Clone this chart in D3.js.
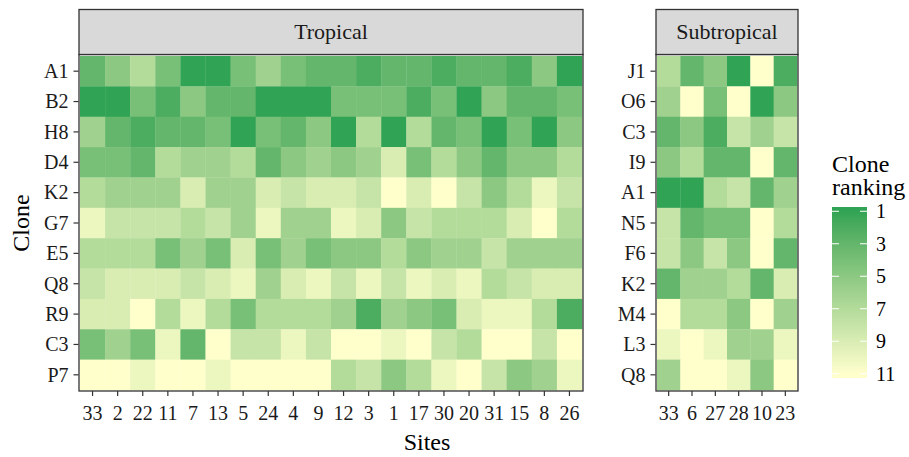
<!DOCTYPE html>
<meta charset="utf-8">
<style>
body { margin: 0; background: #fff; }
svg { font-family: "Liberation Serif", "Times New Roman", serif; }
.axis path { display: none; }
.axis line { stroke: #333; stroke-width: 1.2px; }
.axis text { fill: #1a1a1a; font-size: 20px; font-family: "Liberation Serif", serif; }
.strip rect { fill: #d9d9d9; stroke: #333; stroke-width: 1.3px; }
.strip text { font-size: 22px; fill: #1a1a1a; text-anchor: middle; }
.border { fill: none; stroke: #333; stroke-width: 1.3px; }
</style>
<svg width="909" height="457"></svg>
<script src="https://d3js.org/d3.v7.min.js"></script>
<script>

// tropical facet
var tropicalSites = ["33", "2", "22", "11", "7", "13", "5", "24", "4", "9", "12", "3", "1", "17", "30", "20", "31", "15", "8", "26"];
var tropicalClones = ["A1", "B2", "H8", "D4", "K2", "G7", "E5", "Q8", "R9", "C3", "P7"];
var tropicalRanks = [
  [3, 5, 7, 4, 1, 1, 4, 6, 4, 3, 3, 2, 3, 3, 2, 3, 3, 2, 5, 1],
  [1, 1, 4, 2, 5, 3, 3, 1, 1, 1, 4, 4, 4, 2, 4, 1, 5, 3, 3, 4],
  [6, 3, 2, 3, 3, 4, 1, 4, 3, 5, 1, 7, 1, 7, 3, 4, 1, 4, 1, 5],
  [4, 4, 3, 7, 6, 6, 7, 3, 5, 6, 5, 6, 9, 4, 7, 5, 3, 5, 5, 7],
  [7, 6, 6, 6, 9, 6, 6, 9, 8, 9, 9, 8, 11, 9, 11, 8, 5, 7, 10, 8],
  [10, 8, 8, 8, 7, 8, 6, 10, 6, 6, 10, 9, 5, 8, 7, 7, 7, 9, 11, 7],
  [7, 7, 7, 4, 6, 4, 9, 4, 6, 4, 5, 5, 7, 5, 6, 6, 8, 6, 6, 6],
  [8, 9, 9, 9, 8, 9, 10, 6, 9, 10, 8, 10, 8, 10, 9, 10, 7, 8, 9, 9],
  [9, 9, 11, 7, 10, 7, 4, 7, 7, 7, 6, 2, 6, 5, 4, 9, 10, 10, 7, 2],
  [4, 6, 4, 10, 3, 11, 8, 8, 10, 8, 11, 11, 10, 11, 8, 7, 11, 11, 8, 11],
  [11, 11, 10, 11, 11, 10, 11, 11, 11, 11, 7, 8, 5, 7, 10, 11, 8, 5, 6, 10]
];

// subtropical facet
var subtropicalSites = ["33", "6", "27", "28", "10", "23"];
var subtropicalClones = ["J1", "O6", "C3", "I9", "A1", "N5", "F6", "K2", "M4", "L3", "Q8"];
var subtropicalRanks = [
  [7, 3, 5, 1, 11, 2],
  [6, 11, 4, 11, 1, 5],
  [3, 5, 2, 8, 6, 8],
  [5, 7, 3, 3, 11, 3],
  [1, 1, 7, 8, 3, 6],
  [8, 3, 4, 4, 11, 7],
  [8, 5, 8, 5, 11, 3],
  [3, 6, 6, 7, 3, 9],
  [11, 7, 7, 5, 11, 6],
  [10, 11, 10, 6, 6, 10],
  [6, 11, 11, 10, 5, 11]
];

var legendTicks = [1, 3, 5, 7, 9, 11];

var svg = d3.select("svg");

var color = d3.scaleLinear()
  .domain([1, 11])
  .range(["#31a354", "#ffffcc"])
  .interpolate(d3.interpolateLab);

var panelTop = 56, panelBottom = 390;

function facet(name, sites, clones, ranks, x0, x1) {
  var x = d3.scaleBand().domain(sites).range([x0, x1]);
  var y = d3.scaleBand().domain(clones).range([panelTop, panelBottom]);

  var cells = [];
  clones.forEach(function(c, i) {
    sites.forEach(function(s, j) {
      cells.push({site: s, clone: c, rank: ranks[i][j]});
    });
  });

  svg.append("g").selectAll("rect")
    .data(cells)
    .enter().append("rect")
    .attr("x", function(d) { return x(d.site); })
    .attr("y", function(d) { return y(d.clone); })
    .attr("width", x.bandwidth() + 0.3)
    .attr("height", y.bandwidth() + 0.3)
    .attr("fill", function(d) { return color(d.rank); });

  svg.append("rect").attr("class", "border")
    .attr("x", x0 - 1).attr("y", panelTop - 1.5)
    .attr("width", x1 - x0 + 2).attr("height", panelBottom - panelTop + 2.5);

  var strip = svg.append("g").attr("class", "strip");
  strip.append("rect")
    .attr("x", x0 - 1).attr("y", 9.5)
    .attr("width", x1 - x0 + 2).attr("height", panelTop - 1.5 - 9.5);
  strip.append("text")
    .attr("x", (x0 + x1) / 2).attr("y", 39)
    .text(name);

  svg.append("g")
    .attr("class", "axis")
    .attr("transform", "translate(0," + (panelBottom + 1) + ")")
    .call(d3.axisBottom(x).tickSize(5).tickPadding(10));

  svg.append("g")
    .attr("class", "axis")
    .attr("transform", "translate(" + (x0 - 1.5) + ",0)")
    .call(d3.axisLeft(y).tickSize(5).tickPadding(5))
    .selectAll("text").attr("dy", "0.34em");
}

facet("Tropical", tropicalSites, tropicalClones, tropicalRanks, 80, 582);
facet("Subtropical", subtropicalSites, subtropicalClones, subtropicalRanks, 657, 797);

// axis titles
svg.append("text")
  .attr("transform", "translate(29," + (panelTop + panelBottom) / 2 + ") rotate(-90)")
  .attr("text-anchor", "middle")
  .style("font-size", "24px")
  .text("Clone");

svg.append("text")
  .attr("x", 427).attr("y", 450)
  .attr("text-anchor", "middle")
  .style("font-size", "24px")
  .text("Sites");

// legend
var lg = svg.append("g");
lg.append("text").attr("x", 832).attr("y", 172).style("font-size", "24px").text("Clone");
lg.append("text").attr("x", 832).attr("y", 195).style("font-size", "24px").text("ranking");

var barTop = 207, barBottom = 378, barX = 832, barW = 35;
var half = (barBottom - barTop) / 40;
var ly = d3.scaleLinear().domain([1, 11]).range([barTop + half, barBottom - half]);

var grad = svg.append("defs").append("linearGradient")
  .attr("id", "legendGrad")
  .attr("x1", 0).attr("y1", 0).attr("x2", 0).attr("y2", 1);
d3.range(1, 11.01, 0.5).forEach(function(v) {
  grad.append("stop")
    .attr("offset", (ly(v) - barTop) / (barBottom - barTop))
    .attr("stop-color", color(v));
});

lg.append("rect")
  .attr("x", barX).attr("y", barTop)
  .attr("width", barW).attr("height", barBottom - barTop)
  .attr("fill", "url(#legendGrad)");

legendTicks.forEach(function(t) {
  lg.append("line")
    .attr("x1", barX).attr("x2", barX + 7)
    .attr("y1", ly(t)).attr("y2", ly(t))
    .attr("stroke", "#fff").attr("stroke-width", 1);
  lg.append("line")
    .attr("x1", barX + barW - 7).attr("x2", barX + barW)
    .attr("y1", ly(t)).attr("y2", ly(t))
    .attr("stroke", "#fff").attr("stroke-width", 1);
  lg.append("text")
    .attr("x", barX + barW + 9).attr("y", ly(t))
    .attr("dy", "0.35em")
    .style("font-size", "20px")
    .text(t);
});

</script>
